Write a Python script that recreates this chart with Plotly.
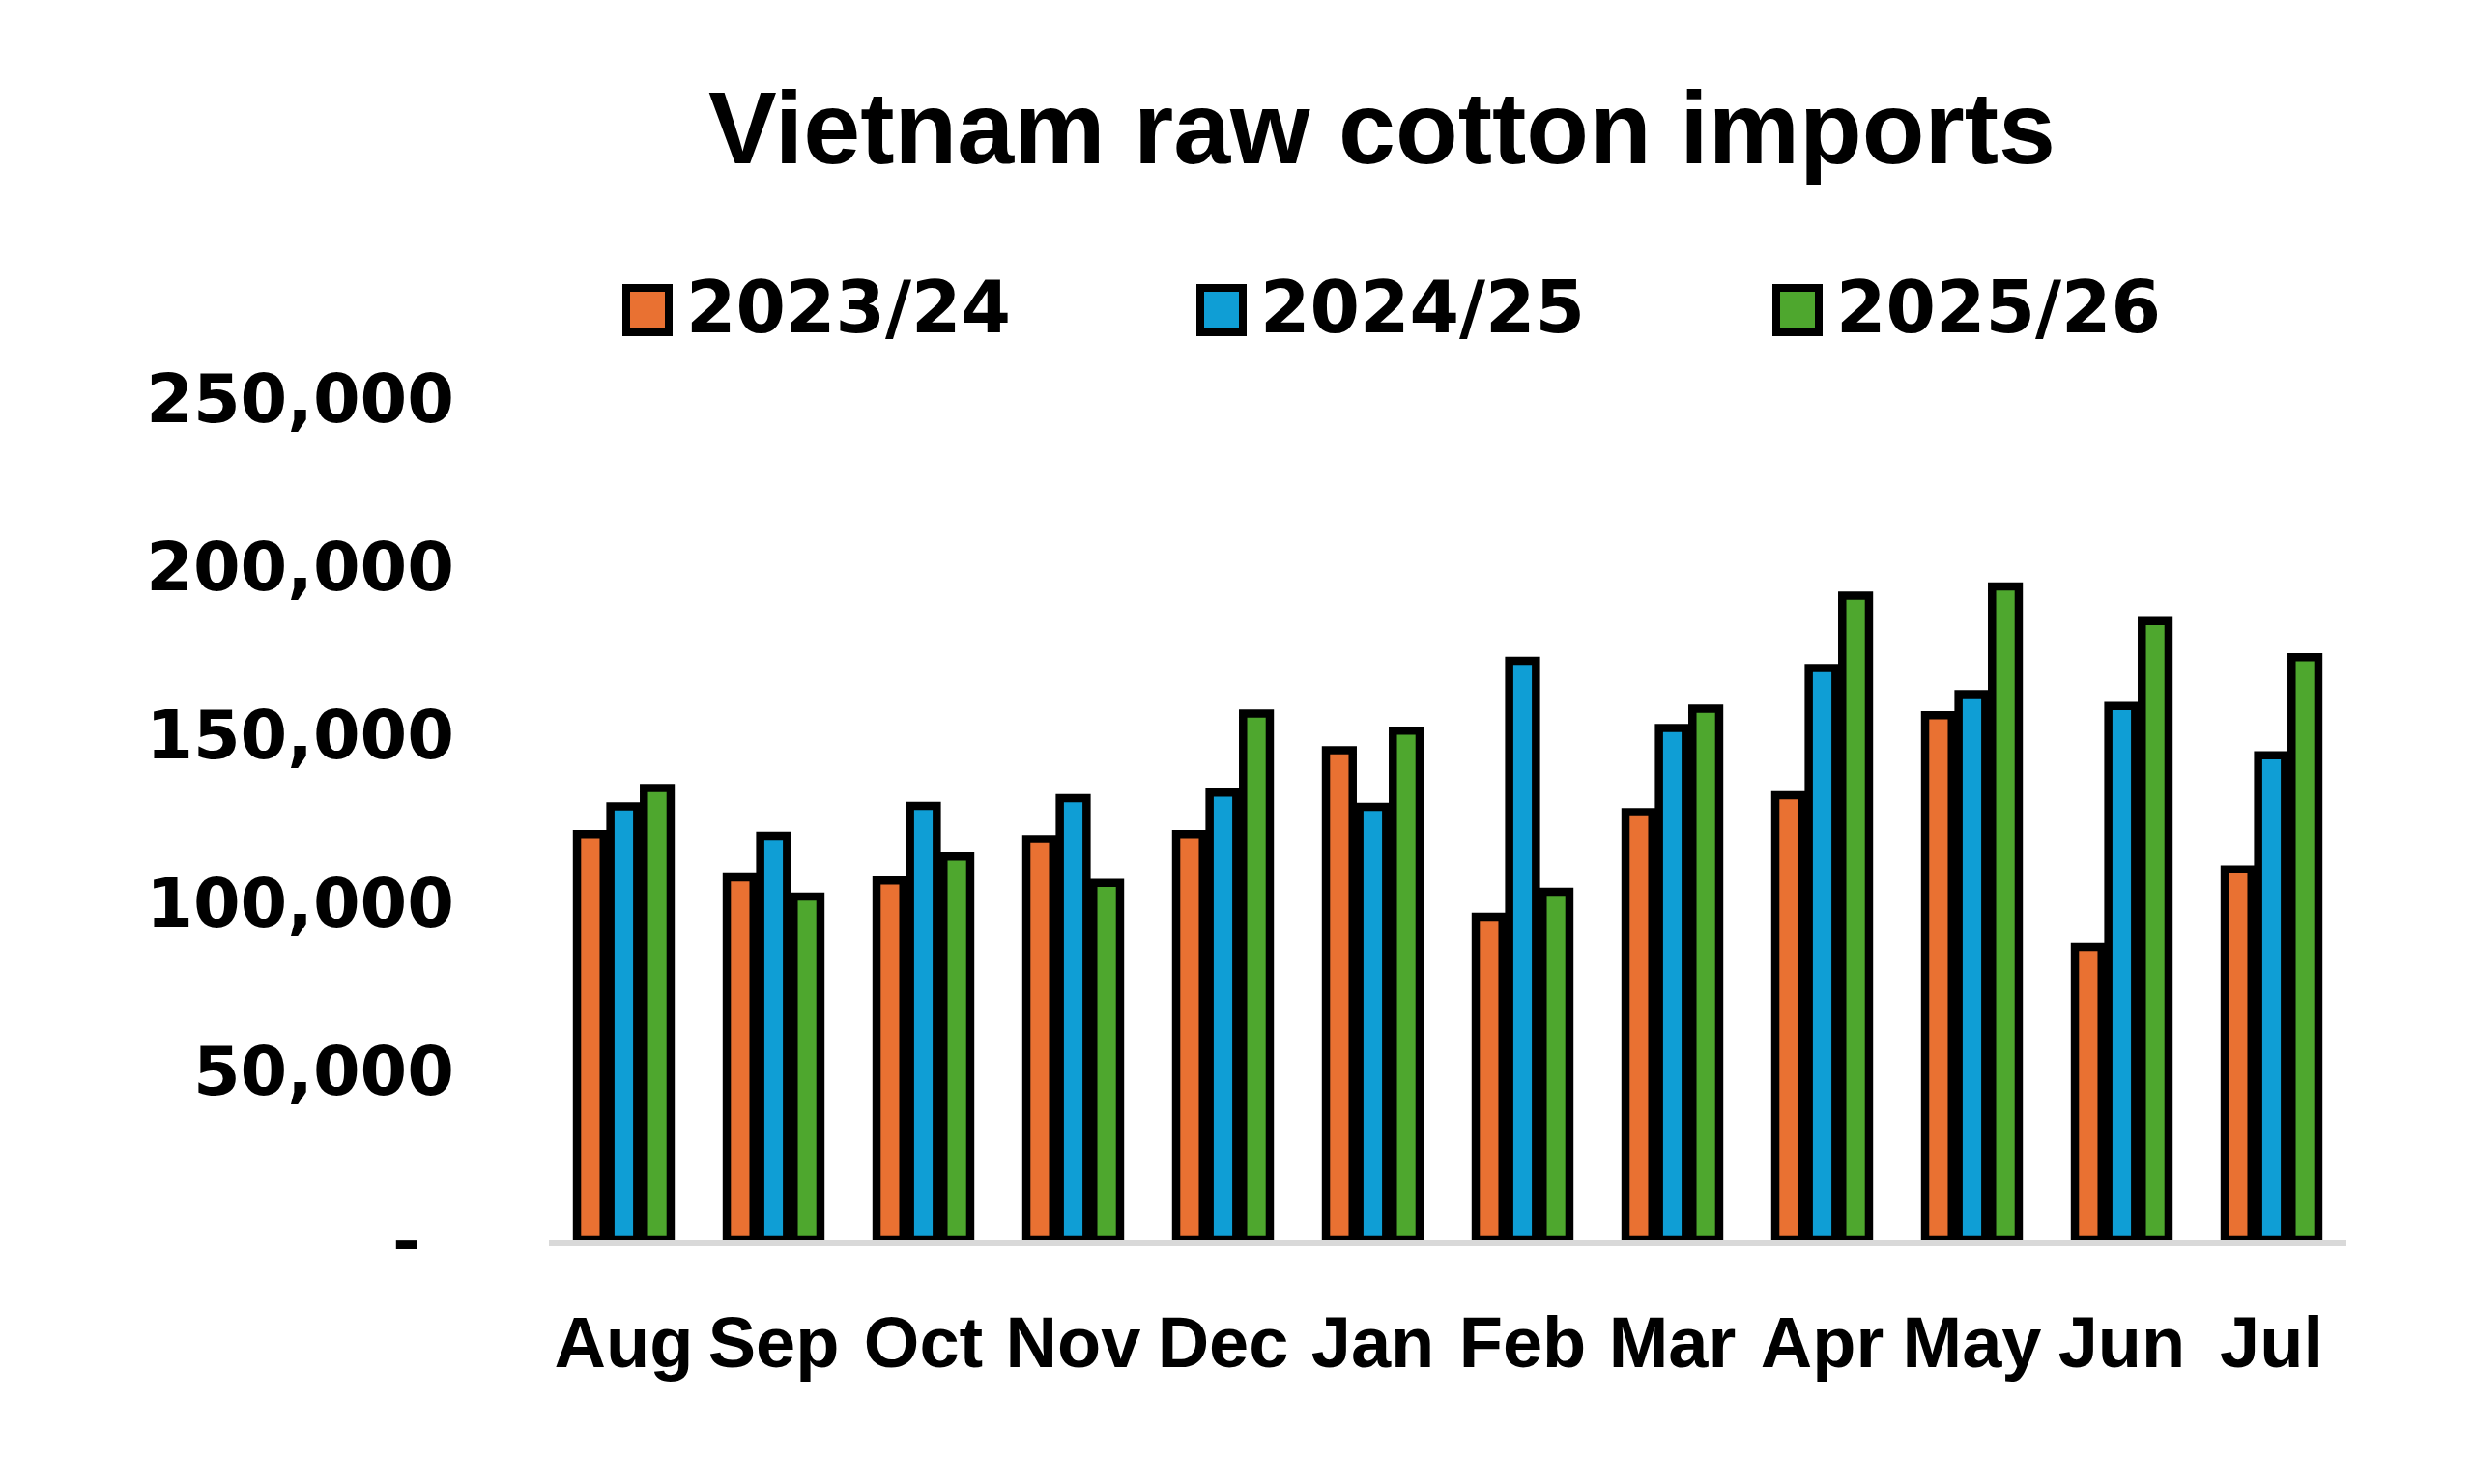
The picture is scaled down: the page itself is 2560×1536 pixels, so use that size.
import plotly.graph_objects as go

# monthly raw cotton imports (tonnes), marketing year Aug-Jul
months = ["Aug", "Sep", "Oct", "Nov", "Dec", "Jan", "Feb", "Mar", "Apr", "May", "Jun", "Jul"]
y2023_24 = [120500, 107600, 106700, 119000, 120500, 145400, 95900, 127000, 132000, 155800, 87000, 110000]
y2024_25 = [128700, 120000, 128900, 131200, 132800, 128600, 171900, 152000, 169800, 162000, 158500, 143900]
y2025_26 = [134200, 101900, 113900, 106000, 156300, 151200, 103300, 157700, 191300, 194000, 183800, 173000]

series_names = ["2023/24", "2024/25", "2025/26"]
series_colors = ["#E97132", "#0F9ED5", "#4EA72E"]

y_ticks = [0, 50000, 100000, 150000, 200000, 250000]
y_tick_text = ["-\u2002", "50,000", "100,000", "150,000", "200,000", "250,000"]

# the page body has an 8px margin, so the canvas is a bit smaller than the window
OFF = 8
W, H = 2560 - 2 * OFF, 1536 - 2 * OFF
L, T = 568 - OFF, 412 - OFF
R = W - (2428 - OFF)
B = H - (1283 - OFF)
PW, PH = W - L - R, H - T - B


def px_x(x):
    return (x - OFF - L) / PW


def px_y(y):
    return (H - B - (y - OFF)) / PH


fig = go.Figure()
for name, vals, color in zip(series_names, [y2023_24, y2024_25, y2025_26], series_colors):
    fig.add_trace(
        go.Bar(
            x=months,
            y=vals,
            name=name,
            marker=dict(color=color, line=dict(color="black", width=8.5)),
            showlegend=False,
        )
    )

# hand-made legend, the built-in one can't draw swatches this big
legend_left = [648, 1242, 1838]
for x0, name, color in zip(legend_left, series_names, series_colors):
    fig.add_shape(
        type="rect",
        xref="paper", yref="paper",
        x0=px_x(x0), x1=px_x(x0 + 44),
        y0=px_y(344), y1=px_y(298),
        fillcolor=color,
        line=dict(color="black", width=8),
    )
    fig.add_annotation(
        xref="paper", yref="paper",
        x=px_x(x0 + 60), y=px_y(318),
        xanchor="left", yanchor="middle",
        text=name, showarrow=False,
        font=dict(family="DejaVu Sans", size=74, color="black", weight="bold"),
    )

fig.update_layout(
    width=W,
    height=H,
    margin=dict(l=L, r=R, t=T, b=B, autoexpand=False),
    paper_bgcolor="white",
    plot_bgcolor="white",
    barmode="group",
    bargap=0.33,
    bargroupgap=0.2,
    title=dict(
        text="<b>Vietnam raw cotton imports</b>",
        font=dict(family="Liberation Sans", size=106, color="black"),
        xref="container", x=(1430 - OFF) / W, xanchor="center",
        yref="container", y=1 - (132 - OFF) / H, yanchor="middle",
    ),
)

fig.update_xaxes(
    showline=True,
    linecolor="#D9D9D9",
    linewidth=7,
    showgrid=False,
    ticks="",
    tickangle=0,
    automargin=False,
    ticklabelstandoff=36,
    tickfont=dict(family="Liberation Sans", size=74, color="black", weight="bold"),
)

fig.update_yaxes(
    range=[0, 250000],
    tickvals=y_ticks,
    ticktext=y_tick_text,
    showgrid=False,
    showline=False,
    zeroline=False,
    ticks="",
    automargin=False,
    ticklabelstandoff=97,
    tickfont=dict(family="DejaVu Sans", size=70, color="black", weight="bold"),
)

fig.write_html("out.html")
